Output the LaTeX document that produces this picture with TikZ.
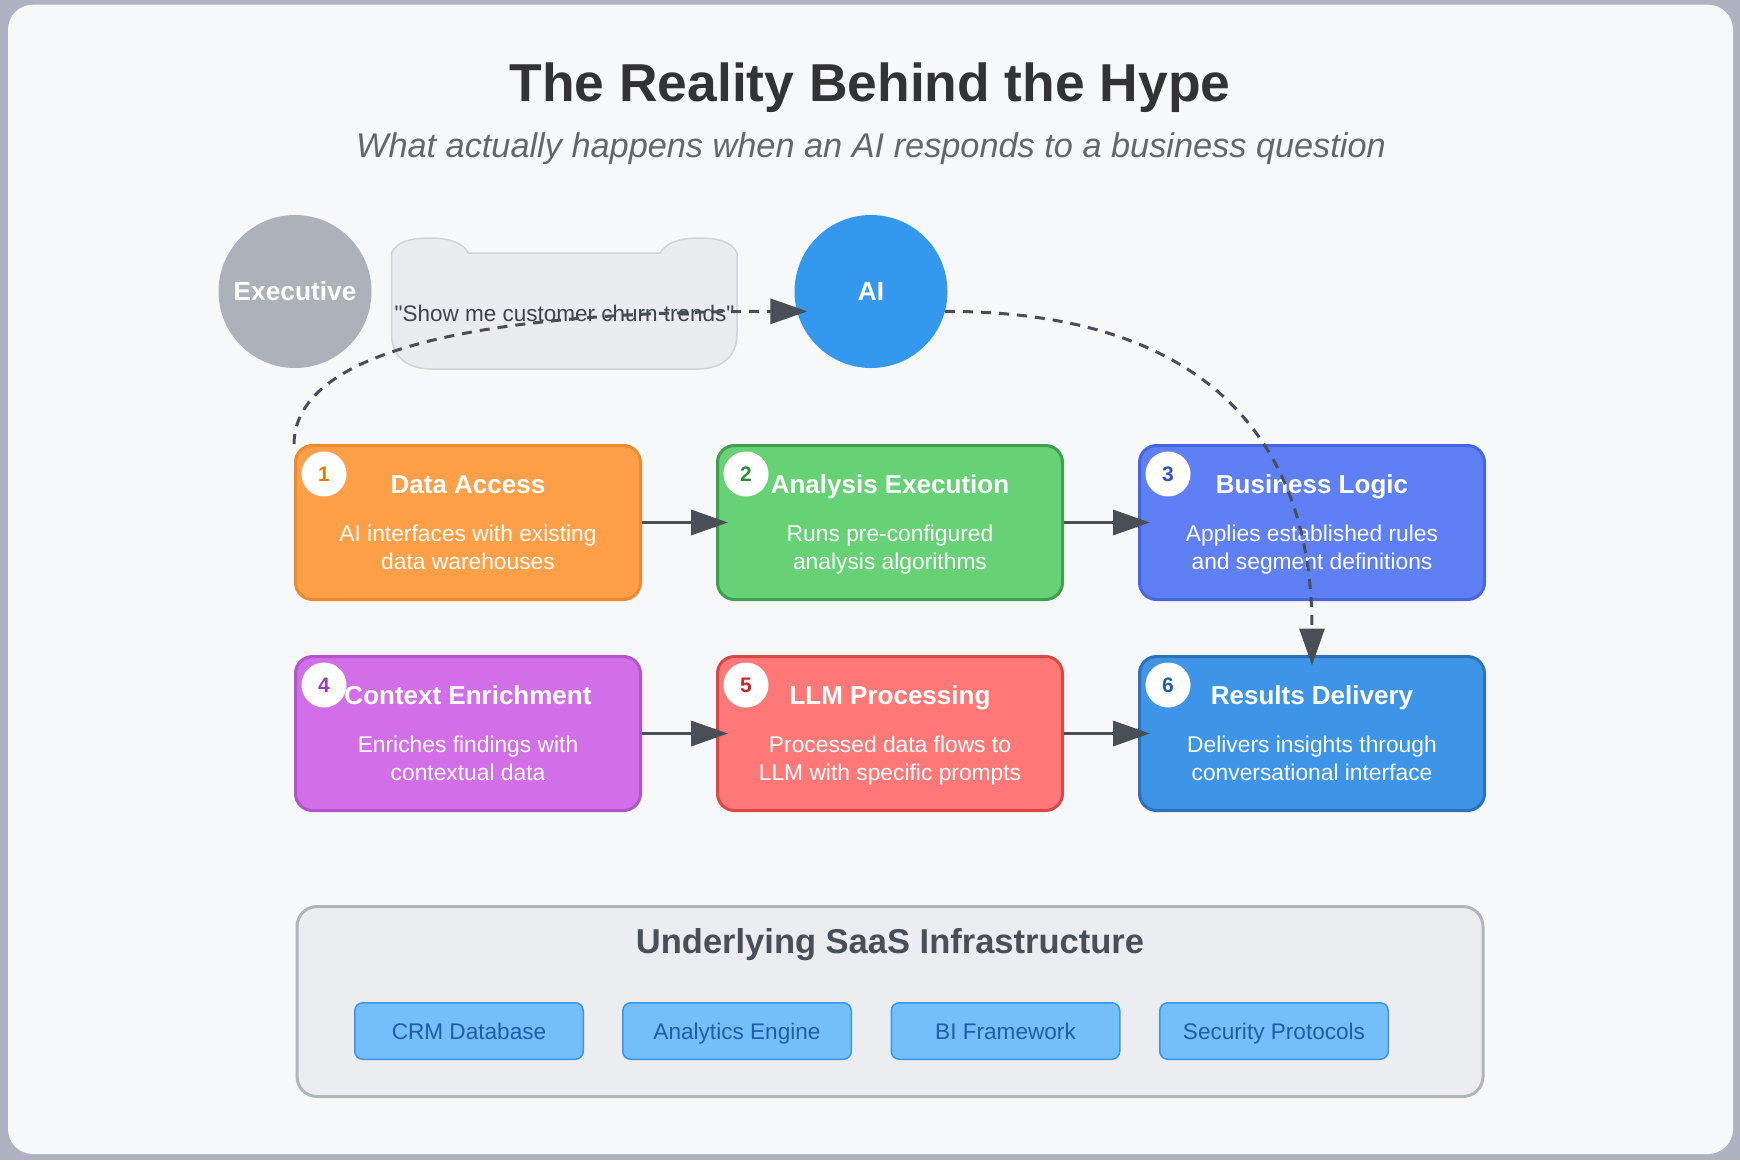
\documentclass[tikz,border=0pt]{standalone}
\usepackage{fontspec}
\setmainfont{Liberation Sans}
\newfontfamily\bubblefont{Liberation Sans}[Ligatures=TeXOff]
\usetikzlibrary{arrows.meta,calc}
\definecolor{outerbg}{HTML}{AFB2C0}
\definecolor{innerbg}{HTML}{F7F8FA}
\definecolor{titlec}{HTML}{333333}
\definecolor{subc}{HTML}{666666}
\definecolor{execc}{HTML}{ADB2BA}
\definecolor{aic}{HTML}{3499EE}
\definecolor{bubfill}{HTML}{EBECEF}
\definecolor{bubline}{HTML}{D0D4DA}
\definecolor{bubtext}{HTML}{3F434A}
\definecolor{connc}{HTML}{4A4F57}
\definecolor{fA}{HTML}{FF9F47}\definecolor{lA}{HTML}{EE8A30}\definecolor{nA}{HTML}{E47C00}
\definecolor{fB}{HTML}{66D175}\definecolor{lB}{HTML}{3F9E4F}\definecolor{nB}{HTML}{2E8B3E}
\definecolor{fC}{HTML}{5F7FF5}\definecolor{lC}{HTML}{4A66DF}\definecolor{nC}{HTML}{3050D0}
\definecolor{fD}{HTML}{D36EE9}\definecolor{lD}{HTML}{B155C9}\definecolor{nD}{HTML}{9B3DB5}
\definecolor{fE}{HTML}{FF7878}\definecolor{lE}{HTML}{D94848}\definecolor{nE}{HTML}{C62828}
\definecolor{fF}{HTML}{3E95E8}\definecolor{lF}{HTML}{2E72B6}\definecolor{nF}{HTML}{1F5FA5}
\definecolor{infrafill}{HTML}{EBEDF0}
\definecolor{infraline}{HTML}{B0B5BC}
\definecolor{infratext}{HTML}{4A4F57}
\definecolor{chipfill}{HTML}{74BFFA}
\definecolor{chipline}{HTML}{3D95E8}
\definecolor{chiptext}{HTML}{1D5FA0}
\begin{document}
\begin{tikzpicture}[x=1pt,y=-1pt,
  maintitle/.style={font=\fontsize{53.4}{60}\selectfont\bfseries, text=titlec, anchor=base, inner sep=0pt},
  subtitle/.style={font=\fontsize{34.3}{40}\selectfont\itshape, text=subc, anchor=base, inner sep=0pt},
  actor/.style={circle, minimum size=153pt, inner sep=0pt, text=white, font=\fontsize{26.3}{30}\selectfont\bfseries, text height=18.8pt, text depth=0pt},
  procbox/.style={draw, line width=3pt, rounded corners=17pt, minimum width=345pt, minimum height=154pt, inner sep=0pt},
  numc/.style={circle, fill=white, minimum size=45pt, inner sep=0pt, font=\fontsize{21}{24}\selectfont\bfseries, text height=15pt, text depth=0pt},
  boxtitle/.style={font=\fontsize{26}{30}\selectfont\bfseries, text=white, anchor=base, inner sep=0pt},
  boxdesc/.style={font=\fontsize{22.8}{27}\selectfont, text=white, anchor=base, inner sep=0pt},
  conn/.style={draw=connc, line width=3.5pt, -{Triangle[length=37pt,width=25pt]}, shorten >=-12pt},
  dconn/.style={draw=connc, -{Triangle[length=37pt,width=25pt]}, shorten >=-10.5pt, line width=3pt, dash pattern=on 10pt off 8pt},
  chip/.style={draw=chipline, fill=chipfill, line width=1.5pt, rounded corners=8pt, minimum width=228.5pt, minimum height=56.5pt, inner sep=0pt, text=chiptext, font=\fontsize{22.6}{27}\selectfont, text height=16pt, text depth=0pt}
]
\useasboundingbox (0,0) rectangle (1740,1160);
\fill[outerbg] (0,0) rectangle (1740,1160);
\fill[innerbg, rounded corners=25pt] (8,4.7) rectangle (1733,1154);

% titles
\node[maintitle] (title) at (870,101.7) {The Reality Behind the Hype};
\node[subtitle] (subtitle) at (871,157) {What actually happens when an AI responds to a business question};

% speech bubble
\filldraw[fill=bubfill, draw=bubline, line width=1.5pt]
  (391.5,253) .. controls (397,241) and (412,238) .. (430,238)
  .. controls (448,238) and (462,242) .. (468.6,253) -- (660,253)
  .. controls (666.6,242) and (680.6,238) .. (698.6,238)
  .. controls (716.6,238) and (731.5,241) .. (737,253) -- (737,333)
  .. controls (737,357) and (722,369) .. (697,369) -- (432,369)
  .. controls (407,369) and (391.5,357) .. (391.5,333) -- cycle;
\node[font=\bubblefont\fontsize{22.5}{27}\selectfont, text=bubtext, anchor=base, inner sep=0pt] (query) at (564.5,321) {"Show me customer churn trends"};

% actors
\node[actor, fill=execc] (exec) at (295,291.5) {Executive};
\node[actor, fill=aic] (ai) at (871,291.5) {AI};

% process boxes row 1
\node[procbox, fill=fA, draw=lA] (b1) at (468,522.5) {};
\node[procbox, fill=fB, draw=lB] (b2) at (890,522.5) {};
\node[procbox, fill=fC, draw=lC] (b3) at (1312,522.5) {};
% row 2
\node[procbox, fill=fD, draw=lD] (b4) at (468,733.5) {};
\node[procbox, fill=fE, draw=lE] (b5) at (890,733.5) {};
\node[procbox, fill=fF, draw=lF] (b6) at (1312,733.5) {};

% box 1
\node[boxtitle] (t1) at (468,493) {Data Access};
\node[boxdesc] (d1a) at (468,541.5) {AI interfaces with existing};
\node[boxdesc] (d1b) at (468,569.5) {data warehouses};
\node[numc, text=nA] (n1) at ($(b1.north west)+(30,30)$) {1};
% box 2
\node[boxtitle] (t2) at (890,493) {Analysis Execution};
\node[boxdesc] (d2a) at (890,541.5) {Runs pre-configured};
\node[boxdesc] (d2b) at (890,569.5) {analysis algorithms};
\node[numc, text=nB] (n2) at ($(b2.north west)+(30,30)$) {2};
% box 3
\node[boxtitle] (t3) at (1312,493) {Business Logic};
\node[boxdesc] (d3a) at (1312,541.5) {Applies established rules};
\node[boxdesc] (d3b) at (1312,569.5) {and segment definitions};
\node[numc, text=nC] (n3) at ($(b3.north west)+(30,30)$) {3};
% box 4
\node[boxtitle] (t4) at (468,704.5) {Context Enrichment};
\node[boxdesc] (d4a) at (468,752.5) {Enriches findings with};
\node[boxdesc] (d4b) at (468,780.5) {contextual data};
\node[numc, text=nD] (n4) at ($(b4.north west)+(30,30)$) {4};
% box 5
\node[boxtitle] (t5) at (890,704.5) {LLM Processing};
\node[boxdesc] (d5a) at (890,752.5) {Processed data flows to};
\node[boxdesc] (d5b) at (890,780.5) {LLM with specific prompts};
\node[numc, text=nE] (n5) at ($(b5.north west)+(30,30)$) {5};
% box 6
\node[boxtitle] (t6) at (1312,704.5) {Results Delivery};
\node[boxdesc] (d6a) at (1312,752.5) {Delivers insights through};
\node[boxdesc] (d6b) at (1312,780.5) {conversational interface};
\node[numc, text=nF] (n6) at ($(b6.north west)+(30,30)$) {6};

% infrastructure
\node[draw=infraline, fill=infrafill, line width=3pt, rounded corners=20pt, minimum width=1186pt, minimum height=190pt, inner sep=0pt] (infra) at (890,1001.5) {};
\node[font=\fontsize{34.5}{40}\selectfont\bfseries, text=infratext, anchor=base, inner sep=0pt] (infratitle) at (890,953) {Underlying SaaS Infrastructure};
\node[chip] (c1) at (469,1031) {CRM Database};
\node[chip] (c2) at (737,1031) {Analytics Engine};
\node[chip] (c3) at (1005.5,1031) {BI Framework};
\node[chip] (c4) at (1274,1031) {Security Protocols};

% connectors
\draw[conn] (b1.east) -- (b2.west);
\draw[conn] (b2.east) -- (b3.west);
\draw[conn] (b4.east) -- (b5.west);
\draw[conn] (b5.east) -- (b6.west);
\draw[dconn] (b1.north west) .. controls (295,355) and (461.3,311.3) .. (ai.195);
\draw[dconn] (ai.-15) .. controls (1190.7,311.3) and (1312,426) .. (b6.north);
\end{tikzpicture}
\end{document}
